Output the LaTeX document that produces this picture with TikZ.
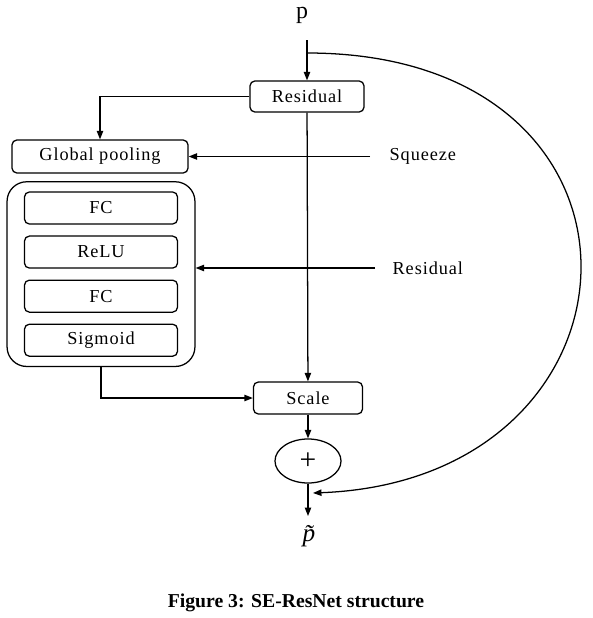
\documentclass[tikz,border=0pt]{standalone}
\usepackage{fontspec}
\setmainfont{Liberation Serif}
\usetikzlibrary{arrows.meta,positioning,fit,shapes.geometric}

\begin{document}
\begin{tikzpicture}[
  x=0.025cm, y=-0.025cm,
  blk/.style={draw, rounded corners=3.5pt, inner sep=0pt,
              font=\fontsize{13}{15}\selectfont\addfontfeature{LetterSpace=5}},
  inner/.style={blk, minimum width=3.825cm, minimum height=0.8cm},
  lbl/.style={inner sep=0pt, font=\fontsize{13}{15}\selectfont\addfontfeature{LetterSpace=5}},
  >={Triangle[length=6pt,width=4.5pt]}, line width=0.9pt
]
  \useasboundingbox (0,0) rectangle (592,618);

  \node[lbl, font=\fontsize{17}{19}\selectfont] (p) at (302,15) {p};
  \node[blk, minimum width=2.85cm, minimum height=0.775cm] (res) at (307,96.5) {Residual};
  \node[blk, minimum width=4.4cm, minimum height=0.825cm] (gp) at (100,156.5) {Global pooling};
  \node[inner] (fc1) at (101,208) {FC};
  \node[inner, below=0.27cm of fc1] (relu) {ReLU};
  \node[inner, below=0.27cm of relu] (fc2) {FC};
  \node[inner, below=0.27cm of fc2] (sig) {Sigmoid};
  \node[draw, rounded corners=14pt, fit=(fc1)(sig), inner xsep=0.42cm, inner ysep=0.24cm] (se) {};
  \node[blk, minimum width=2.725cm, minimum height=0.8cm] (scale) at (308,398) {Scale};
  \node[draw, ellipse, minimum width=1.65cm, minimum height=1.1cm, inner sep=0pt,
        font=\fontsize{21}{23}\selectfont] (plus) at (308,461) {+};
  \node[lbl, font=\fontsize{18}{20}\selectfont\itshape] (pt) at (309,536) {\~{p}};
  \node[lbl, anchor=west] (sq) at (389,156.5) {Squeeze};
  \node[lbl, anchor=west] (rsl) at (392,268) {Residual};
  \node[font=\fontsize{14}{16}\selectfont\bfseries] (cap) at (296,603) {Figure 3: SE-ResNet structure};

  \coordinate (pin) at (307,40);
  \coordinate (skipin) at (307,53);
  \coordinate (skipout) at (313,493);
  \coordinate (pout) at (308,516);
  \coordinate (sqin) at (370,156.5);
  \coordinate (rsin) at (375,268);

  \draw[->] (pin) -- (res);
  \draw[->] (res.west) -| (gp.north);
  \draw[->] (res) -- (scale);
  \draw[->] (sqin) -- (gp.east);
  \draw[->] (rsin) -- (se.east |- rsin);
  \draw[->] (se.south) |- (scale.west);
  \draw[->] (scale) -- (plus);
  \draw[->] (plus) -- (pout);
  \draw[->] (skipin) .. controls (680,53) and (660,480) .. (skipout);
\end{tikzpicture}
\end{document}
